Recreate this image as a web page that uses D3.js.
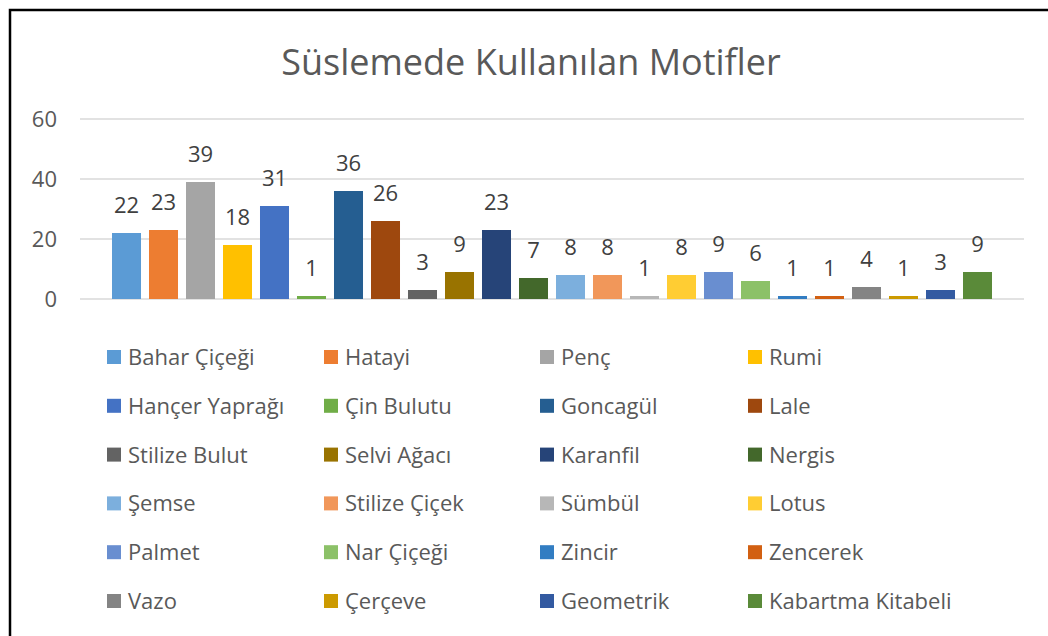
<!DOCTYPE html>
<html>
<head>
<meta charset="utf-8">
<script src="https://cdn.jsdelivr.net/npm/d3@7"></script>
<style>
  body { margin: 0; background: #fff; }
  text { font-family: "Open Sans", "Noto Sans", sans-serif; }
</style>
</head>
<body>
<div id="chart-area"></div>
<script>
// motif names (series) and counts
var motifs = ["Bahar Çiçeği", "Hatayi", "Penç", "Rumi", "Hançer Yaprağı", "Çin Bulutu",
  "Goncagül", "Lale", "Stilize Bulut", "Selvi Ağacı", "Karanfil", "Nergis",
  "Şemse", "Stilize Çiçek", "Sümbül", "Lotus", "Palmet", "Nar Çiçeği",
  "Zincir", "Zencerek", "Vazo", "Çerçeve", "Geometrik", "Kabartma Kitabeli"];
var counts = [22, 23, 39, 18, 31, 1, 36, 26, 3, 9, 23, 7, 8, 8, 1, 8, 9, 6, 1, 1, 4, 1, 3, 9];
var colors = ["#5B9BD5", "#ED7D31", "#A5A5A5", "#FFC000", "#4472C4", "#70AD47",
  "#255E91", "#9E480E", "#636363", "#997300", "#264478", "#43682B",
  "#7CAFDD", "#F1975A", "#B7B7B7", "#FFCD33", "#698ED0", "#8CC168",
  "#327DC2", "#D26012", "#848484", "#CC9A00", "#335AA1", "#5A8A39"];
var yTicks = [0, 20, 40, 60];

var width = 1048, height = 636;

var svg = d3.select("#chart-area")
  .append("svg")
    .attr("width", width)
    .attr("height", height);

// chart border
svg.append("rect")
  .attr("x", 10)
  .attr("y", 10)
  .attr("width", 1100)
  .attr("height", 700)
  .attr("fill", "#fff")
  .attr("stroke", "#000")
  .attr("stroke-width", 2.5);

// title
svg.append("text")
  .attr("x", 531)
  .attr("y", 75)
  .attr("text-anchor", "middle")
  .attr("font-size", "36px")
  .attr("fill", "#595959")
  .text("Süslemede Kullanılan Motifler");

var x = d3.scaleBand()
  .domain(motifs)
  .range([108, 996])
  .paddingInner(0.216)
  .paddingOuter(0.108);

var y = d3.scaleLinear()
  .domain([0, 60])
  .range([299, 119]);

// gridlines
svg.append("g")
  .selectAll("line")
  .data(yTicks)
  .enter().append("line")
    .attr("x1", 80)
    .attr("x2", 1024)
    .attr("y1", d => y(d))
    .attr("y2", d => y(d))
    .attr("stroke", "#d9d9d9")
    .attr("stroke-width", 1.3);

// y axis labels
var yAxis = svg.append("g")
  .attr("transform", "translate(64,0)")
  .call(d3.axisLeft(y).tickValues(yTicks).tickSize(0).tickPadding(0));
yAxis.select(".domain").remove();
yAxis.selectAll("text")
  .attr("font-family", "Open Sans")
  .attr("font-size", "22px")
  .attr("fill", "#595959")
  .attr("x", -7);

// bars
svg.selectAll(".bar")
  .data(motifs)
  .enter().append("rect")
    .attr("class", "bar")
    .attr("x", d => x(d))
    .attr("y", (d, i) => y(counts[i]))
    .attr("width", x.bandwidth())
    .attr("height", (d, i) => y(0) - y(counts[i]))
    .attr("fill", (d, i) => colors[i]);

// value labels
svg.selectAll(".val")
  .data(motifs)
  .enter().append("text")
    .attr("class", "val")
    .attr("x", d => x(d) + x.bandwidth() / 2)
    .attr("y", (d, i) => y(counts[i]) - 20)
    .attr("text-anchor", "middle")
    .attr("font-size", "22px")
    .attr("fill", "#404040")
    .text((d, i) => counts[i]);

// legend, 4 columns
var colX = [107, 324, 540, 748];
var legend = svg.selectAll(".leg")
  .data(motifs)
  .enter().append("g")
    .attr("class", "leg")
    .attr("transform", (d, i) => "translate(" + colX[i % 4] + "," + (357 + Math.floor(i / 4) * 48.8) + ")");

legend.append("rect")
  .attr("x", 0)
  .attr("y", -7)
  .attr("width", 14)
  .attr("height", 14)
  .attr("fill", (d, i) => colors[i]);

legend.append("text")
  .attr("x", 21)
  .attr("y", 8)
  .attr("font-size", "22px")
  .attr("fill", "#595959")
  .text(d => d);
</script>
</body>
</html>
